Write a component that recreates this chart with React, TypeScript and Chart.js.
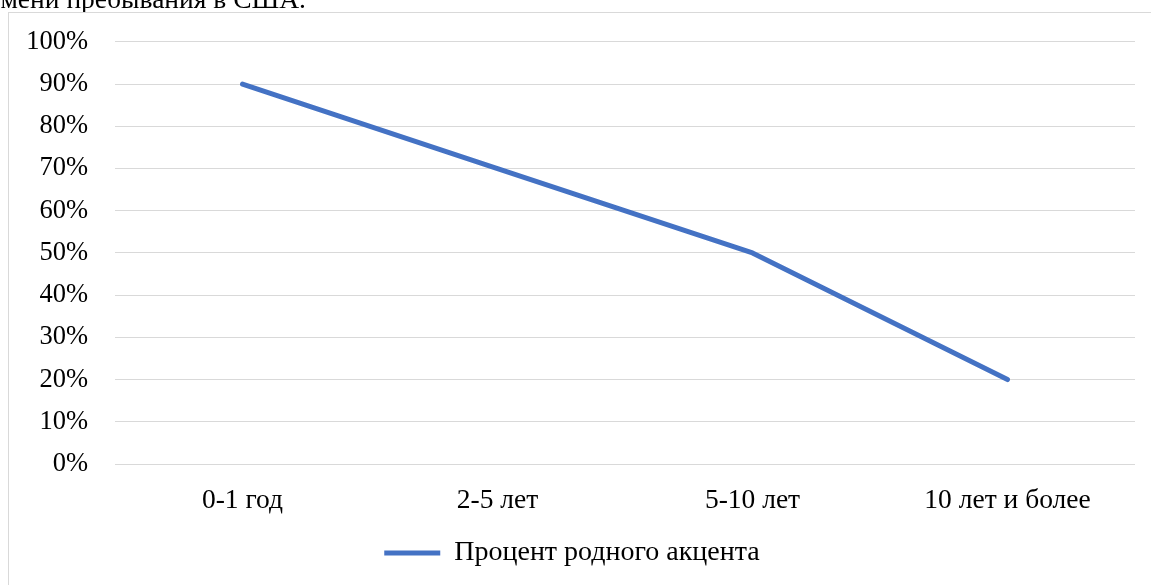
import React, { useEffect, useRef } from "react";
import { Chart, registerables } from "chart.js";

Chart.register(...registerables);

const categories = ["0-1 год", "2-5 лет", "5-10 лет", "10 лет и более"];
const accentPercent = [90, 70, 50, 20];
const seriesName = "Процент родного акцента";
const captionTail = "зависимости от времени пребывания в США.";

const FONT = "'Liberation Serif', 'Times New Roman', serif";

export default function App() {
  const ref = useRef<HTMLCanvasElement | null>(null);

  useEffect(() => {
    if (!ref.current) return;
    const chart = new Chart(ref.current, {
      type: "line",
      data: {
        labels: categories,
        datasets: [
          {
            label: seriesName,
            data: accentPercent,
            borderColor: "#4472C4",
            backgroundColor: "#4472C4",
            borderWidth: 5,
            borderCapStyle: "round",
            borderJoinStyle: "round",
            pointRadius: 0,
            pointHoverRadius: 0,
            pointStyle: "line",
            tension: 0,
          },
        ],
      },
      options: {
        animation: false,
        responsive: false,
        maintainAspectRatio: false,
        layout: { padding: { top: 12, right: 16, left: 0, bottom: 0 } },
        plugins: {
          tooltip: { enabled: false },
          legend: {
            position: "bottom",
            labels: {
              usePointStyle: true,
              pointStyle: "line",
              pointStyleWidth: 56,
              color: "#000",
              padding: 2,
              font: { family: FONT, size: 28 },
            },
          },
        },
        scales: {
          x: {
            offset: true,
            grid: { display: false, drawTicks: false },
            border: { display: false },
            ticks: {
              color: "#000",
              padding: 20,
              font: { family: FONT, size: 27.5 },
              maxRotation: 0,
            },
          },
          y: {
            min: 0,
            max: 100,
            afterFit: (scale: any) => {
              scale.width = 106;
            },
            grid: { color: "#d9d9d9", lineWidth: 1, drawTicks: false },
            border: { display: false },
            ticks: {
              stepSize: 10,
              color: "#000",
              padding: 27,
              font: { family: FONT, size: 26.5 },
              callback: (v: any) => v + "%",
            },
          },
        },
      },
    });
    return () => chart.destroy();
  }, []);

  return (
    <div>
      <div
        style={{
          position: "fixed",
          top: -17,
          right: 1151 - 306,
          whiteSpace: "nowrap",
          fontFamily: FONT,
          fontSize: 27.5,
          color: "#000",
          lineHeight: "normal",
        }}
      >
        {captionTail}
      </div>
      <div
        style={{
          position: "fixed",
          left: 8,
          top: 12,
          width: 1160,
          height: 620,
          border: "1px solid #d9d9d9",
          background: "#fff",
        }}
      />
      <canvas
        ref={ref}
        width={1142}
        height={578}
        style={{ position: "fixed", left: 9, top: -1.5, display: "block", width: 1142, height: 578 }}
      />
    </div>
  );
}
